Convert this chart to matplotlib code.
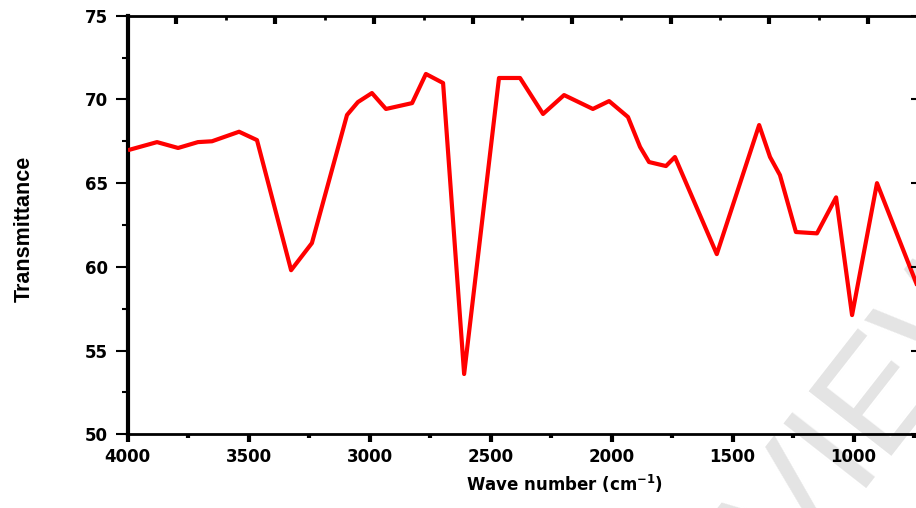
import matplotlib
matplotlib.use("Agg")
import matplotlib.pyplot as plt
import numpy as np

# -----------------------------
# FTIR spectrum values
# -----------------------------
wave_number = [3990, 3878, 3791, 3709, 3651, 3539, 3465, 3324, 3238, 3093,
               3048, 2990, 2932, 2824, 2767, 2696, 2609, 2465, 2378, 2283,
               2196, 2077, 2010, 1932, 1882, 1845, 1775, 1738, 1565, 1390,
               1345, 1304, 1238, 1151, 1072, 1006, 903, 740]
transmittance = [67.0, 67.45, 67.1, 67.45, 67.5, 68.07, 67.57, 59.8, 61.42, 69.07,
                 69.84, 70.38, 69.43, 69.78, 71.52, 70.98, 53.6, 71.28, 71.28, 69.13,
                 70.26, 69.43, 69.9, 68.95, 67.16, 66.26, 66.02, 66.56, 60.76, 68.47,
                 66.56, 65.48, 62.08, 62.0, 64.15, 57.12, 65.0, 59.0]

x_ticks = [4000, 3500, 3000, 2500, 2000, 1500, 1000]
y_ticks = [50, 55, 60, 65, 70, 75]

TICK_FONT = {"family": "DejaVu Sans", "weight": "bold", "size": 12}

fig = plt.figure(figsize=(9.16, 5.08), dpi=100)
ax = fig.add_axes([0.1392, 0.1451, 0.8626, 0.8240])
ax.patch.set_visible(False)

ax.plot(wave_number, transmittance, color="#ff0000", linewidth=3.0, zorder=3)

ax.set_xlim(4000, 735)
ax.set_ylim(50, 75)
ax.set_xticks(x_ticks)
ax.set_xticks(np.arange(3750, 700, -500), minor=True)
ax.set_yticks(y_ticks)
ax.set_yticks(np.arange(52.5, 75, 5), minor=True)

for label in ax.get_xticklabels() + ax.get_yticklabels():
    label.set_fontfamily(TICK_FONT["family"])
    label.set_fontweight(TICK_FONT["weight"])
    label.set_fontsize(TICK_FONT["size"])

ax.tick_params(axis="x", which="major", direction="out", length=6, width=3, pad=4)
ax.tick_params(axis="x", which="minor", direction="out", length=3, width=3)
ax.tick_params(axis="y", which="major", direction="out", length=9, width=1.5, pad=5)
ax.tick_params(axis="y", which="minor", direction="out", length=4, width=1.5)

ax.spines["left"].set_linewidth(3)
ax.spines["bottom"].set_linewidth(2)
ax.spines["top"].set_visible(False)
ax.spines["right"].set_visible(False)

ax.set_xlabel("Wave number (cm$^{\\mathbf{-1}}$)", fontfamily="DejaVu Sans",
              fontweight="bold", fontsize=12)
ax.xaxis.set_label_coords(0.5525, -0.093)
ax.xaxis.label.set_verticalalignment("top")
ax.set_ylabel("Transmittance", fontfamily="Liberation Sans", fontweight="bold",
              fontsize=15.5)
ax.yaxis.set_label_coords(-0.118, 0.49)

# Top axis with its own inward ticks
top = ax.twiny()
top.set_xlim(0, 1)
top_major = 0.0627 + 0.1266 * np.arange(8)
top.set_xticks(top_major)
top.set_xticks(top_major + 0.0633, minor=True)
top.tick_params(axis="x", which="major", direction="in", length=6, width=3, labeltop=False)
top.tick_params(axis="x", which="minor", direction="in", length=3, width=2)
top.tick_params(axis="y", left=False, labelleft=False)
top.spines["top"].set_linewidth(2)
for side in ["left", "bottom", "right"]:
    top.spines[side].set_visible(False)

# Right axis with inward ticks
right = ax.twinx()
right.set_ylim(50, 75)
right.set_yticks(y_ticks)
right.tick_params(axis="y", direction="in", length=5, width=1.5, labelright=False)
right.tick_params(axis="x", bottom=False, labelbottom=False)
right.spines["right"].set_linewidth(2)
for side in ["left", "bottom", "top"]:
    right.spines[side].set_visible(False)

# Light watermark in the lower right corner
fig.text(0.89, 0.065, "REVIEW", fontsize=110, color="#e4e4e4", rotation=52,
         ha="center", va="center", fontfamily="Liberation Sans", zorder=-1)

fig.savefig("out.png", dpi=100)
